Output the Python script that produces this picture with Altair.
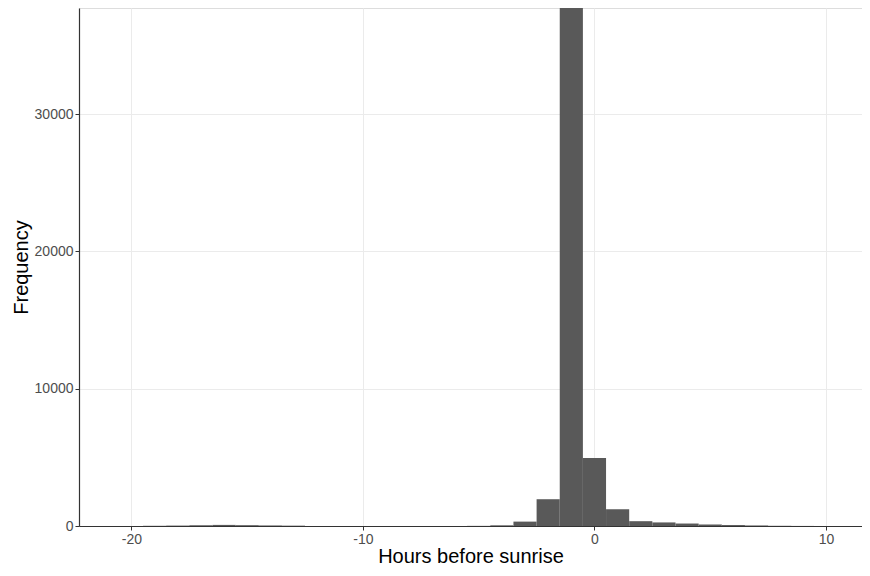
import altair as alt
import pandas as pd

# Histogram bins (bin centres, width 1 hour) and counts
bin_centers = [-19, -18, -17, -16, -15, -14, -13, -12, -11, -10, -9, -8, -7, -6,
               -5, -4, -3, -2, -1, 0, 1, 2, 3, 4, 5, 6, 7, 8, 9, 10]
counts = [15, 30, 55, 80, 60, 40, 25, 0, 0, 0, 0, 0, 0, 0,
          10, 50, 320, 1950, 41000, 4950, 1220, 350, 260, 180, 110, 70, 40, 15, 5, 0]

x_ticks = [-20, -10, 0, 10]
y_ticks = [0, 10000, 20000, 30000]

df = pd.DataFrame({"center": bin_centers, "count": counts})

FONT = "Liberation Sans"

chart = (
    alt.Chart(df)
    .transform_calculate(start="datum.center - 0.5", end="datum.center + 0.5")
    .mark_bar(color="#595959", clip=True, orient="vertical")
    .encode(
        x=alt.X(
            "start:Q",
            scale=alt.Scale(domain=[-22.05, 11.34], nice=False, zero=False),
            axis=alt.Axis(
                values=x_ticks,
                title="Hours before sunrise",
                labelExpr="datum.value + ''",
                grid=True,
                gridColor="#ebebeb",
                gridWidth=1,
                domainColor="#333333",
                domainWidth=1.2,
                tickColor="#333333",
                tickSize=4,
                labelFont=FONT,
                labelFontSize=14,
                labelColor="#4d4d4d",
                labelPadding=2,
                titleFont=FONT,
                titleFontSize=20,
                titleFontWeight="normal",
                titleColor="#000000",
                titlePadding=0,
            ),
        ),
        x2="end:Q",
        y=alt.Y(
            "count:Q",
            scale=alt.Scale(domain=[0, 37719], nice=False),
            axis=alt.Axis(
                values=y_ticks,
                title="Frequency",
                labelExpr="datum.value + ''",
                grid=True,
                gridColor="#ebebeb",
                gridWidth=1,
                domainColor="#333333",
                domainWidth=1.2,
                tickColor="#333333",
                tickSize=4,
                labelFont=FONT,
                labelFontSize=14,
                labelColor="#4d4d4d",
                labelPadding=2,
                titleFont=FONT,
                titleFontSize=20,
                titleFontWeight="normal",
                titleColor="#000000",
                titlePadding=3,
            ),
        ),
        y2=alt.datum(0),
    )
    .properties(
        width=783,
        height=518,
        autosize=alt.AutoSizeParams(type="none"),
        padding={"left": 71, "top": 0, "right": 0, "bottom": 42},
    )
    .configure_view(stroke="#999999", strokeWidth=1)
    .configure(background="white")
)

chart.save("out.html", embed_options={"renderer": "svg", "actions": False})
